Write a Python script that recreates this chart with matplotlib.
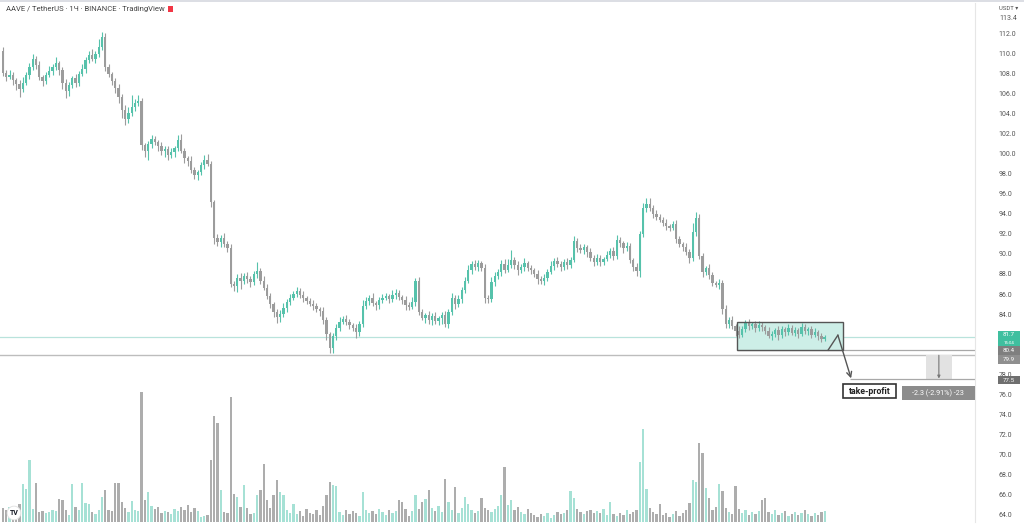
import numpy as np
import matplotlib.pyplot as plt
import matplotlib.transforms as mtransforms
from matplotlib.patches import Rectangle
from matplotlib.lines import Line2D

plt.rcParams['font.family'] = ['Roboto', 'DejaVu Sans']

# AAVE / USDT, 1h candles (open = previous close)
first_open = 110.2
closes = [
    108.0, 107.6, 107.8, 107.3, 106.9, 106.4, 107.0, 107.8, 108.6, 109.4,
    108.8, 107.6, 107.2, 107.8, 108.2, 108.6, 109.0, 108.3, 107.0, 106.2,
    106.8, 107.5, 107.0, 107.9, 108.4, 109.3, 109.8, 109.4, 109.9, 110.6,
    111.6, 108.6, 107.9, 107.2, 106.5, 105.6, 104.3, 103.4, 104.0, 104.6,
    105.0, 105.2, 100.8, 100.2, 100.9, 101.4, 101.1, 100.7, 100.2, 100.4,
    99.8, 100.1, 100.5, 101.3, 100.2, 99.5, 99.3, 98.4, 97.9, 98.2,
    98.9, 99.4, 99.0, 95.2, 91.6, 91.2, 91.6, 91.0, 90.6, 87.0,
    86.8, 87.6, 87.3, 87.8, 87.5, 87.2, 88.0, 88.3, 87.3, 86.6,
    85.8, 85.0, 84.2, 83.7, 84.0, 84.6, 85.2, 85.6, 86.0, 86.3,
    85.9, 85.6, 85.3, 85.0, 84.8, 84.5, 84.3, 83.4, 82.0, 80.6,
    81.8, 82.6, 83.2, 83.5, 83.2, 82.9, 82.6, 82.2, 83.0, 84.8,
    85.3, 85.6, 85.1, 84.9, 85.4, 85.6, 85.8, 85.5, 85.9, 86.1,
    85.7, 85.4, 84.9, 84.7, 85.2, 87.3, 84.2, 83.6, 83.9, 83.4,
    83.8, 83.3, 83.6, 83.9, 83.0, 84.2, 85.6, 85.0, 85.5, 86.4,
    87.3, 88.4, 89.0, 88.7, 89.1, 88.6, 85.6, 85.5, 87.2, 87.8,
    88.2, 89.0, 88.4, 88.9, 89.4, 88.9, 88.4, 88.7, 89.1, 88.6,
    88.4, 88.0, 87.5, 87.3, 87.6, 88.2, 88.8, 89.3, 89.0, 88.7,
    89.2, 88.9, 89.4, 91.3, 90.6, 90.4, 90.7, 90.2, 89.6, 89.2,
    89.6, 89.2, 89.5, 89.9, 90.3, 89.8, 91.4, 91.1, 90.6, 90.8,
    89.4, 88.7, 88.3, 92.0, 94.6, 95.0, 94.6, 94.0, 93.7, 93.4,
    93.1, 92.8, 92.6, 93.0, 91.5, 91.0, 90.7, 90.2, 89.6, 92.2,
    93.6, 89.8, 88.2, 88.6, 87.9, 87.1, 86.9, 87.1, 84.5, 83.0,
    83.4, 82.8, 82.3, 81.9, 82.5, 83.1, 82.8, 83.0, 82.6, 82.9,
    82.7, 82.3, 81.8, 82.0, 82.4, 81.9, 82.5, 82.2, 82.6, 82.1,
    82.4, 82.0, 82.7, 82.3, 82.5, 81.9, 82.2, 81.8, 81.5, 81.7,
]
upper_wick = [
    .4, .3, .5, .3, .2, .4, .6, .3, .4, .5,
    .3, .4, .2, .3, .5, .3, .6, .2, .3, .4,
    .3, .2, .4, .3, .5, .3, .4, .6, .3, .8,
    .5, .4, .3, .2, .3, .4, .3, .5, .6, 1.2,
    .4, .6, .3, .2, .3, .4, .3, .2, .4, .3,
    .3, .4, .2, .5, .6, .3, .2, .4, .3, .2,
    .3, .4, .5, .3, .2, .4, .3, .5, .3, .4,
    .3, .4, .5, .3, .4, .3, .3, .9, .3, .5,
    .4, .3, .2, .3, .4, .5, .3, .4, .3, .4,
    .3, .4, .2, .3, .4, .3, .2, .4, .3, .2,
    .3, .4, .5, .3, .4, .3, .2, .4, .3, .6,
    .4, .3, .5, .2, .3, .4, .3, .2, .5, .4,
    .3, .2, .4, .3, .5, .3, .4, .3, .2, .4,
    .3, .4, .2, .3, .4, .3, .5, .3, .4, .3,
    .4, .5, .3, .4, .3, .2, .4, .3, .5, .4,
    .3, .4, .5, .6, 1.0, .3, .4, .3, .5, .2,
    .3, .2, .4, .3, .4, .3, .5, .3, .4, .3,
    .3, .4, .3, .5, .3, .4, .3, .2, .4, .3,
    .4, .3, .2, .4, .3, .4, .5, .3, .2, .4,
    .3, .2, .4, .3, .5, .6, .6, .3, .4, .3,
    .3, .4, .2, .3, .4, .3, .2, .4, .3, .9,
    .6, .4, .3, .2, .4, .3, .2, .4, .3, .4,
    .3, .4, .2, .5, .3, .3, .4, .2, .3, .4,
    .3, .2, .4, .3, .2, .4, .3, .2, .4, .3,
    .3, .2, .4, .3, .2, .3, .4, .2, .3, .2,
]
lower_wick = [
    .3, .4, .2, .5, .6, .8, .3, .2, .4, .3,
    .4, .3, .5, .3, .2, .4, .3, .5, .6, .7,
    .5, .3, .4, .3, .2, .4, .3, .2, .4, .3,
    .3, .4, .3, .4, .5, .6, .8, .6, .4, .3,
    .4, .3, .5, .6, .8, .4, .3, .5, .4, .6,
    .4, .3, .5, .3, .2, .4, .5, .3, .4, .5,
    .3, .4, .2, .5, .6, .4, .5, .3, .4, .3,
    .5, .6, .8, .3, .4, .5, .3, .4, .3, .2,
    .3, .4, .5, .6, .5, .3, .4, .3, .2, .3,
    .3, .4, .3, .2, .4, .3, .5, .4, .6, .5,
    .5, .4, .3, .2, .3, .4, .3, .6, .4, .3,
    .3, .4, .3, .5, .4, .3, .2, .4, .3, .4,
    .3, .4, .5, .3, .2, .4, .3, .2, .5, .4,
    .5, .3, .4, .6, .3, .4, .3, .5, .3, .4,
    .3, .2, .4, .3, .4, .3, .5, .4, .3, .4,
    .3, .4, .3, .2, .3, .4, .5, .3, .4, .3,
    .4, .3, .5, .3, .4, .3, .2, .4, .3, .4,
    .3, .4, .3, .2, .4, .3, .4, .5, .3, .4,
    .3, .4, .3, .2, .3, .4, .3, .4, .5, .3,
    .3, .4, .5, .6, .3, .4, .3, .4, .3, .2,
    .3, .4, .3, .2, .4, .3, .4, .3, .5, .3,
    .4, .3, .5, .3, .4, .3, .2, .4, .5, .4,
    .4, .3, .5, .3, .2, .3, .4, .3, .4, .3,
    .4, .3, .2, .4, .3, .5, .3, .4, .3, .2,
    .3, .4, .2, .3, .4, .3, .2, .4, .3, .2,
]
volume = [
    14, 12, 15, 13, 12, 18, 38, 33, 62, 13,
    39, 10, 11, 9, 10, 12, 11, 23, 22, 12,
    7, 38, 15, 12, 39, 19, 18, 10, 8, 12,
    25, 32, 12, 11, 39, 39, 20, 14, 10, 21,
    12, 11, 130, 22, 30, 16, 13, 15, 9, 11,
    10, 8, 13, 11, 15, 12, 17, 10, 14, 11,
    5, 6, 7, 62, 106, 99, 32, 10, 9, 125,
    28, 25, 15, 37, 14, 8, 9, 27, 32, 58,
    22, 14, 27, 42, 30, 27, 12, 9, 18, 8,
    11, 6, 13, 9, 8, 12, 7, 16, 27, 40,
    37, 36, 10, 7, 12, 8, 11, 9, 6, 30,
    12, 9, 11, 8, 13, 10, 7, 12, 9, 11,
    22, 20, 13, 6, 11, 27, 13, 20, 23, 32,
    14, 11, 16, 10, 43, 20, 12, 35, 9, 14,
    25, 18, 12, 9, 11, 24, 14, 12, 10, 13,
    16, 27, 55, 17, 22, 12, 15, 10, 8, 13,
    9, 7, 5, 8, 6, 9, 4, 7, 10, 8,
    9, 12, 31, 24, 13, 10, 8, 11, 12, 9,
    11, 9, 13, 7, 20, 8, 6, 9, 7, 12,
    8, 10, 12, 60, 93, 33, 14, 10, 8, 18,
    7, 9, 5, 8, 11, 6, 9, 12, 19, 42,
    40, 79, 69, 34, 24, 12, 15, 38, 31, 14,
    10, 8, 36, 13, 9, 12, 7, 10, 8, 11,
    22, 24, 10, 8, 12, 7, 9, 11, 6, 8,
    10, 7, 9, 12, 8, 6, 9, 7, 10, 11,
]
price_ticks = np.arange(64, 113, 2)
hidden_ticks = [80, 82]          # covered by the price tags on the scale
last_price = 81.7
stop_levels = [80.4, 79.9]
target_price = 77.5
range_box = (222.4, 254.5, 80.4, 83.2)   # x0, x1, low, high
move_label = "-2.3 (-2.91%) -23"

UP, DOWN = '#56c2ab', '#9c9c9c'
VUP, VDOWN = '#a6e1d5', '#adadad'

c = np.array(closes)
o = np.r_[first_open, c[:-1]]
hi = np.maximum(o, c) + np.array(upper_wick)
lo = np.minimum(o, c) - np.array(lower_wick)
up = c >= o
idx = np.arange(len(c))

W, H = 1024, 525
fig = plt.figure(figsize=(W / 100, H / 100), dpi=100)
rect = [0, 3 / H, 975 / W, 519 / H]
xlim = (-0.91, 294.55)

# volume overlay
vax = fig.add_axes(rect)
vax.bar(idx, volume, width=0.68, color=np.where(up, VUP, VDOWN), linewidth=0)
vax.set_xlim(xlim)
vax.set_ylim(0, 519)
vax.axis('off')

# price pane
ax = fig.add_axes(rect)
ax.set_zorder(2)
ax.patch.set_visible(False)
ax.vlines(idx, lo, hi, colors=np.where(up, UP, DOWN), lw=0.8, zorder=2)
ax.bar(idx, np.maximum(np.abs(c - o), 0.08), bottom=np.minimum(o, c),
       width=0.72, color=np.where(up, UP, DOWN), linewidth=0, zorder=2)
ax.set_xlim(xlim)
ax.set_ylim(63.29, 114.99)
ax.set_xticks([])
ax.yaxis.tick_right()
ax.set_yticks(price_ticks)
ax.set_yticklabels(["" if t in hidden_ticks else f"{t:.1f}" for t in price_ticks])
ax.tick_params(axis='y', length=0, pad=17, labelsize=5, labelcolor='#555555')
for s in ['top', 'left', 'bottom']:
    ax.spines[s].set_visible(False)
ax.spines['right'].set_color('#e6e6e6')
ax.spines['right'].set_linewidth(0.8)

# horizontal levels
ax.axhline(last_price, color='#b9e3dc', lw=0.9, zorder=1)
ax.axhline(stop_levels[1], color='#bdbdbd', lw=1.0, zorder=1)
ax.hlines(stop_levels[0], range_box[0], xlim[1], color='#a8a8a8', lw=0.9, zorder=1)
ax.hlines(target_price, 256.7, xlim[1], color='#a8a8a8', lw=0.9)

# consolidation box
x0, x1, b_lo, b_hi = range_box
ax.add_patch(Rectangle((x0, b_lo), x1 - x0, b_hi - b_lo, fc='#cdeee7',
                       ec='none', zorder=1.5))
ax.add_patch(Rectangle((x0, b_lo), x1 - x0, b_hi - b_lo, fill=False,
                       ec='#555555', lw=1.0, zorder=4))

# zigzag arrow down to target
ax.plot([250, 253], [80.4, 81.9], color='#555555', lw=1.0, zorder=4)
ax.annotate('', xy=(257, 77.6), xytext=(253, 81.9),
            arrowprops=dict(arrowstyle='->', color='#555555', lw=1.0,
                            mutation_scale=9, shrinkA=0, shrinkB=0), zorder=4)

# take-profit label
ax.add_patch(Rectangle((254.5, 75.65), 16.1, 1.39, fc='white', ec='#333333',
                       lw=1.2, zorder=5))
ax.text(262.55, 76.33, "take-profit", ha='center', va='center', fontsize=6.3,
        fontweight='bold', color='#222222', zorder=6)

# measure tool
ax.add_patch(Rectangle((279.7, target_price), 7.9, stop_levels[1] - target_price,
                       fc='#e2e2e2', ec='none', zorder=1))
ax.annotate('', xy=(283.6, target_price + 0.08), xytext=(283.6, stop_levels[1]),
            arrowprops=dict(arrowstyle='-|>', color='#777777', lw=0.8,
                            mutation_scale=4, shrinkA=0, shrinkB=0), zorder=2)
ax.add_patch(Rectangle((272.4, 75.44), 22.1, 1.40, fc='#8c8c8c', ec='none', zorder=5))
ax.text(283.45, 76.14, move_label, ha='center', va='center', fontsize=5.2,
        color='white', zorder=6)

# price scale tags
trans = mtransforms.blended_transform_factory(ax.transAxes, ax.transData)


def price_tag(y0, y1, text, fc, tc='white', sub=None):
    ax.add_patch(Rectangle((1.0236, y0), 0.0226, y1 - y0, transform=trans,
                           fc=fc, ec='none', clip_on=False, zorder=7))
    ym = (y0 + y1) / 2 if sub is None else y1 - 0.42
    ax.text(1.0349, ym, text, transform=trans, ha='center', va='center',
            fontsize=4.4, color=tc, clip_on=False, zorder=8)
    if sub:
        ax.text(1.0349, y0 + 0.36, sub, transform=trans, ha='center',
                va='center', fontsize=3.2, color=tc, clip_on=False, zorder=8)


price_tag(80.75, 82.35, f"{last_price:.1f}", '#3fbf9f', sub='15:04')
price_tag(79.95, 80.8, f"{stop_levels[0]:.1f}", '#7f7f7f')
price_tag(79.05, 79.9, f"{stop_levels[1]:.1f}", '#8f8f8f')
price_tag(77.0, 77.85, f"{target_price:.1f}", '#6f6f6f')

# header / scale extras
fig.text(6 / W, 1 - 9 / H, "AAVE / TetherUS · 1Ч · BINANCE · TradingView",
         fontsize=5.5, color='#444444', va='center')
fig.add_artist(Rectangle((168 / W, 1 - 12 / H), 5 / W, 6 / H,
                         transform=fig.transFigure, fc='#f23645', ec='none'))
fig.text(999 / W, 1 - 8 / H, "USDT ▾", fontsize=4.3, color='#555555', va='center')
fig.text(999 / W, 1 - 19 / H, "113.4", fontsize=5, color='#555555', va='center')
fig.add_artist(Line2D([0, 1], [1 - 1 / H, 1 - 1 / H], transform=fig.transFigure,
                      color='#d5d8df', lw=1.2))
fig.text(14 / W, 1 - 513 / H, "TV", fontsize=5, fontweight='bold', color='#131722',
         ha='center', va='center', zorder=10,
         bbox=dict(boxstyle='circle,pad=0.35', fc='white', ec='#e0e0e0', lw=0.6))

fig.savefig('out.png', dpi=100)
